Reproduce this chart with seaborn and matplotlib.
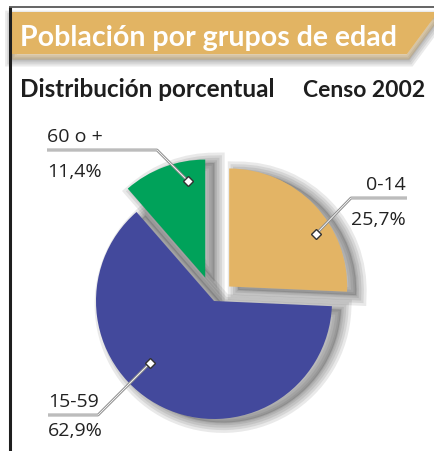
import numpy as np
import pandas as pd
import seaborn as sns
import matplotlib.pyplot as plt
import matplotlib.patheffects as pe
from matplotlib.patches import Polygon

# style first, fonts after (set_theme resets font.family)
sns.set_theme(style="white")
plt.rcParams['font.family'] = ['Open Sans', 'DejaVu Sans']

# data: distribucion porcentual por grupos de edad, censo 2002
grupos = ["0-14", "15-59", "60 o +"]
porcentajes = [25.7, 62.9, 11.4]
etiquetas_pct = ["25,7%", "62,9%", "11,4%"]
colores = ["#e3b465", "#43499c", "#00a25a"]

titulo = "Población por grupos de edad"
subtitulo = "Distribución porcentual"
fuente = "Censo 2002"

# canvas in pixel units (y up)
W, H = 435, 452
fig = plt.figure(figsize=(W / 100, H / 100), dpi=100)
ax = fig.add_axes([0, 0, 1, 1])

centro = (214, H - 302)
radio = 118
# pie explode is in data units here (radius is not 1)
explode = [21, 0, 25]

# soft drop shadow, pushed to the right
glow = [pe.Stroke(linewidth=w, foreground="#3a3a3a", alpha=0.11, offset=(6.5, -2.5))
        for w in (15, 11, 7.5, 4, 1.5)]
ax.pie(porcentajes, explode=explode, center=centro, radius=radio,
       startangle=90, counterclock=False, colors=["#888888"] * 3,
       wedgeprops=dict(linewidth=0, path_effects=glow))
wedges, _ = ax.pie(porcentajes, explode=explode, center=centro, radius=radio,
                   startangle=90, counterclock=False, colors=colores,
                   wedgeprops=dict(linewidth=0))

ax.set_xlim(0, W)
ax.set_ylim(0, H)
ax.axis('off')

# label layout: (text x, align, name baseline, pct baseline, underline y, elbow x, diamond)
layout = {
    "0-14":   (406, "right", 190, 225, 199, 351, (316, 235)),
    "15-59":  (48, "left", 407, 436, 416, 98, (150, 364)),
    "60 o +": (47, "left", 142, 177, 151, 157, (188, 182)),
}

line_fx = [pe.Stroke(linewidth=2.0, foreground="#8c8c8c"), pe.Normal()]
for g, pct in zip(grupos, etiquetas_pct):
    tx, ha, yb1, yb2, yu, xe, (dx, dy) = layout[g]
    x0 = tx if ha == "left" else tx + 1
    ax.plot([x0, xe, dx], [H - yu, H - yu, H - dy], color="white", lw=0.6,
            path_effects=line_fx, solid_capstyle="butt")
    ax.plot(dx, H - dy, marker="D", ms=5.5, mfc="white", mec="#333333", mew=1)
    ax.text(tx, H - yb1, g, ha=ha, va="baseline", fontsize=14, color="#222222")
    ax.text(tx, H - yb2, pct, ha=ha, va="baseline", fontsize=14, color="#222222")

# banner
banner = Polygon([(10, H - 13), (438, H - 13), (407, H - 55), (10, H - 55)],
                 closed=True, facecolor="#e2b463", edgecolor="none",
                 path_effects=[pe.Stroke(linewidth=w, foreground="#555555", alpha=0.12,
                                         offset=(1.5, -4))
                               for w in (10, 7, 4, 1.5)] + [pe.Normal()])
ax.add_patch(banner)
ax.text(20, H - 46, titulo, color="white", fontsize=20.5, fontweight="bold",
        family=["Lato", "DejaVu Sans"], ha="left", va="baseline")

# frame lines
ax.plot([10, 10], [0, H - 8], color="#1e1e1e", lw=2.2, solid_capstyle="butt")
ax.plot([9, W], [H - 8, H - 8], color="#4a4a4a", lw=1.2, solid_capstyle="butt")

ax.text(20, H - 97, subtitulo, color="#1e1e1e", fontsize=17.5, fontweight="bold",
        family=["Lato", "DejaVu Sans"], ha="left", va="baseline")
ax.text(425, H - 97, fuente, color="#1e1e1e", fontsize=16.5, fontweight="bold",
        family=["Lato", "DejaVu Sans"], ha="right", va="baseline")

fig.savefig("out.png", dpi=100)
